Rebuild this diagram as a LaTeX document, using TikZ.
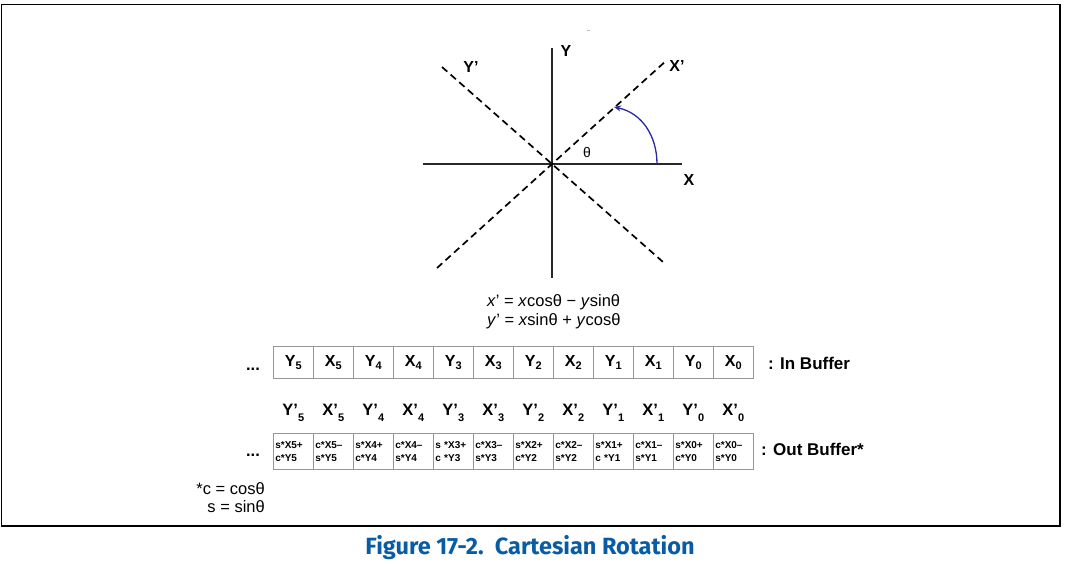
\documentclass[tikz,border=0pt]{standalone}
\usepackage{fontspec}
\setmainfont{Liberation Sans}
\newfontfamily\capfont{Fira Sans}
\usetikzlibrary{arrows.meta}
\definecolor{capblue}{RGB}{8,92,166}
\definecolor{cellgray}{RGB}{150,150,150}
\definecolor{axisgray}{RGB}{40,40,40}
\definecolor{arcblue}{RGB}{40,40,160}
\newcommand\sbs[1]{\raisebox{-0.35ex}{\fontsize{11}{11}\selectfont #1}}
\newcommand\sbl[1]{\raisebox{-0.8ex}{\fontsize{11}{11}\selectfont #1}}
\begin{document}
\begin{tikzpicture}[x=1pt,y=-1pt,
  incell/.style={draw=cellgray,line width=0.8pt,minimum width=40pt,minimum height=32pt,inner sep=0pt,
    font=\bfseries\fontsize{16}{16}\selectfont},
  outcell/.style={draw=cellgray,line width=0.8pt,minimum width=40pt,minimum height=35.5pt,inner sep=2pt,
    text width=36pt,align=left,font=\bfseries\fontsize{10}{13}\selectfont},
  hdr/.style={anchor=base,inner sep=0pt,font=\bfseries\fontsize{16.5}{16.5}\selectfont},
  lbl/.style={inner sep=0pt,font=\bfseries\fontsize{17}{17}\selectfont},
  axis/.style={draw=axisgray,line width=2pt},
  dashaxis/.style={draw=black,line width=1.7pt,dash pattern=on 7pt off 4.5pt},
  axlbl/.style={inner sep=0pt,font=\bfseries\fontsize{16}{16}\selectfont},
  txt/.style={inner sep=0pt,font=\fontsize{16.5}{18.5}\selectfont}
]
\useasboundingbox (0,0) rectangle (1066,564);
\draw[line width=1.5pt] (1.5,4.5) rectangle (1060,526);

% axes
\coordinate (O) at (552,164);
\coordinate (yt) at (552,48);
\coordinate (yb) at (552,278);
\coordinate (xl) at (423,164);
\coordinate (xr) at (682,164);
\coordinate (ypa) at (442,67);
\coordinate (ypb) at (663,262);
\coordinate (xpa) at (437,268);
\coordinate (xpb) at (667,60);
\draw[axis] (yt) -- (yb);
\draw[axis] (xl) -- (xr);
\draw[dashaxis] (ypa) -- (O) -- (ypb);
\draw[dashaxis] (xpa) -- (O) -- (xpb);
\coordinate (arcS) at (657,164);
\coordinate (arcE) at (614,107);
\draw[arcblue,line width=1.3pt,-{Stealth[length=7pt,width=6pt]}] (arcS) .. controls (657,136) and (642,113) .. (arcE);
\draw[gray!50,line width=0.8pt] (587,30) -- (590,30);

\node[axlbl] (Ylab) at (566,51) {Y};
\node[axlbl] (Xlab) at (689,180) {X};
\node[axlbl] (Yplab) at (471,67) {Y’};
\node[axlbl] (Xplab) at (677,66) {X’};
\node[inner sep=0pt,font=\fontsize{14}{14}\selectfont] (theta) at (587,153) {θ};

% formula
\node[txt,anchor=west,align=left] (formula) at (487,311.5)
  {\textit{x}’ = \textit{x}cosθ − \textit{y}sinθ\\\textit{y}’ = \textit{x}sinθ + \textit{y}cosθ};

% in buffer
\foreach \i/\l/\n in {0/Y/5,1/X/5,2/Y/4,3/X/4,4/Y/3,5/X/3,6/Y/2,7/X/2,8/Y/1,9/X/1,10/Y/0,11/X/0}{
  \node[incell] (in\i) at (293.3+40*\i,362.5) {\l\sbs{\n}};
  \node[hdr] (hd\i) at (293.3+40*\i,415) {\l’\sbl{\n}};
}
\node[hdr] (dotsA) at (253,370) {...};
\node[lbl,anchor=west] (inlab) at (768,363) {: In Buffer};

% out buffer
\foreach \i/\a/\b in {0/{s*X5+}/{c*Y5},1/{c*X5–}/{s*Y5},2/{s*X4+}/{c*Y4},3/{c*X4–}/{s*Y4},
  4/{s *X3+}/{c *Y3},5/{c*X3–}/{s*Y3},6/{s*X2+}/{c*Y2},7/{c*X2–}/{s*Y2},
  8/{s*X1+}/{c *Y1},9/{c*X1–}/{s*Y1},10/{s*X0+}/{c*Y0},11/{c*X0–}/{s*Y0}}{
  \node[outcell] (out\i) at (293.3+40*\i,451.2) {\a\\\b};
}
\node[hdr] (dotsB) at (253,456) {...};
\node[lbl,anchor=west] (outlab) at (761,449) {: Out Buffer*};

% footnote
\node[txt,anchor=east,align=right] (foot) at (265,497.5) {*c = cosθ\\s = sinθ};

% caption
\node[inner sep=0pt,text=capblue,font=\capfont\bfseries\fontsize{23.5}{23.5}\selectfont] (cap) at (530,548)
  {Figure 17-2.\ \ Cartesian Rotation};
\end{tikzpicture}
\end{document}
